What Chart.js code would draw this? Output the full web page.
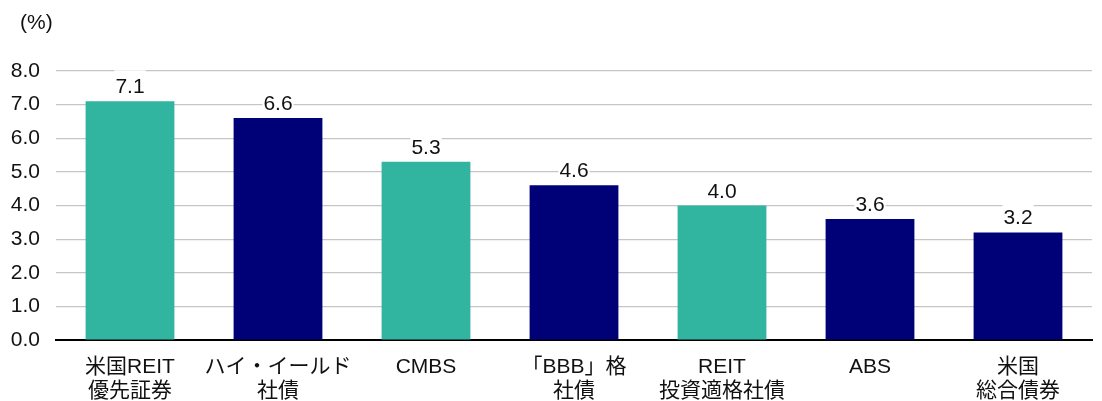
<!DOCTYPE html>
<html>
<head>
<meta charset="utf-8">
<script src="https://cdn.jsdelivr.net/npm/chart.js@4/dist/chart.umd.min.js"></script>
<style>
  html, body { margin: 0; padding: 0; background: #fff; }
  #wrap { width: 1102px; height: 401px; position: relative; }
</style>
</head>
<body>
<div id="wrap"><canvas id="myChart"></canvas></div>
<script>
// categories (multi-line labels)
let categories = [
    ['米国REIT', '優先証券'],
    ['ハイ・イールド', '社債'],
    ['CMBS'],
    ['「BBB」格', '社債'],
    ['REIT', '投資適格社債'],
    ['ABS'],
    ['米国', '総合債券']
];
let values = [7.1, 6.6, 5.3, 4.6, 4.0, 3.6, 3.2];
let barColors = ['#32b5a0', '#000077', '#32b5a0', '#000077', '#32b5a0', '#000077', '#000077'];
let unitLabel = '(%)';

const FONT = '"Liberation Sans", Arial, "Noto Sans CJK JP", sans-serif';

// value labels above bars, with white box behind so the gridline is hidden
let valueLabels = {
    id: 'valueLabels',
    afterDatasetsDraw(chart) {
        let ctx = chart.ctx;
        let meta = chart.getDatasetMeta(0);
        ctx.save();
        ctx.font = '21px ' + FONT;
        ctx.textAlign = 'center';
        ctx.textBaseline = 'alphabetic';
        meta.data.forEach(function (bar, i) {
            let txt = values[i].toFixed(1);
            let w = ctx.measureText(txt).width;
            let y = bar.y - 8;
            ctx.fillStyle = '#fff';
            ctx.fillRect(bar.x - w / 2 - 1, y - 23, w + 2, 25);
            ctx.fillStyle = '#111';
            ctx.fillText(txt, bar.x, y);
        });
        // unit label
        ctx.textAlign = 'left';
        ctx.textBaseline = 'middle';
        ctx.fillText(unitLabel, 20, 23);
        ctx.restore();
    }
};

let ctx = document.getElementById('myChart').getContext('2d');
let chart = new Chart(ctx, {
    type: 'bar',
    data: {
        labels: categories,
        datasets: [{
            data: values,
            backgroundColor: barColors,
            categoryPercentage: 0.6,
            barPercentage: 1.0
        }]
    },
    options: {
        responsive: true,
        maintainAspectRatio: false,
        animation: false,
        layout: { padding: { top: 71, right: 10, left: 0, bottom: 0 } },
        plugins: {
            legend: { display: false },
            tooltip: { enabled: false }
        },
        scales: {
            x: {
                afterFit: function (scale) { scale.height = 61; },
                grid: { display: false, drawTicks: false },
                border: { color: '#000', width: 2 },
                ticks: {
                    color: '#111',
                    font: { size: 21, family: FONT, lineHeight: 1.15 },
                    padding: 15,
                    maxRotation: 0,
                    minRotation: 0,
                    autoSkip: false
                }
            },
            y: {
                afterFit: function (scale) { scale.width = 56; },
                min: 0,
                max: 8,
                ticks: {
                    stepSize: 1,
                    color: '#111',
                    font: { size: 21, family: FONT },
                    padding: 16,
                    callback: function (v) { return v.toFixed(1); }
                },
                grid: { color: '#c6c6c6', lineWidth: 1.2, drawTicks: false },
                border: { display: false }
            }
        }
    },
    plugins: [valueLabels]
});
</script>
</body>
</html>
